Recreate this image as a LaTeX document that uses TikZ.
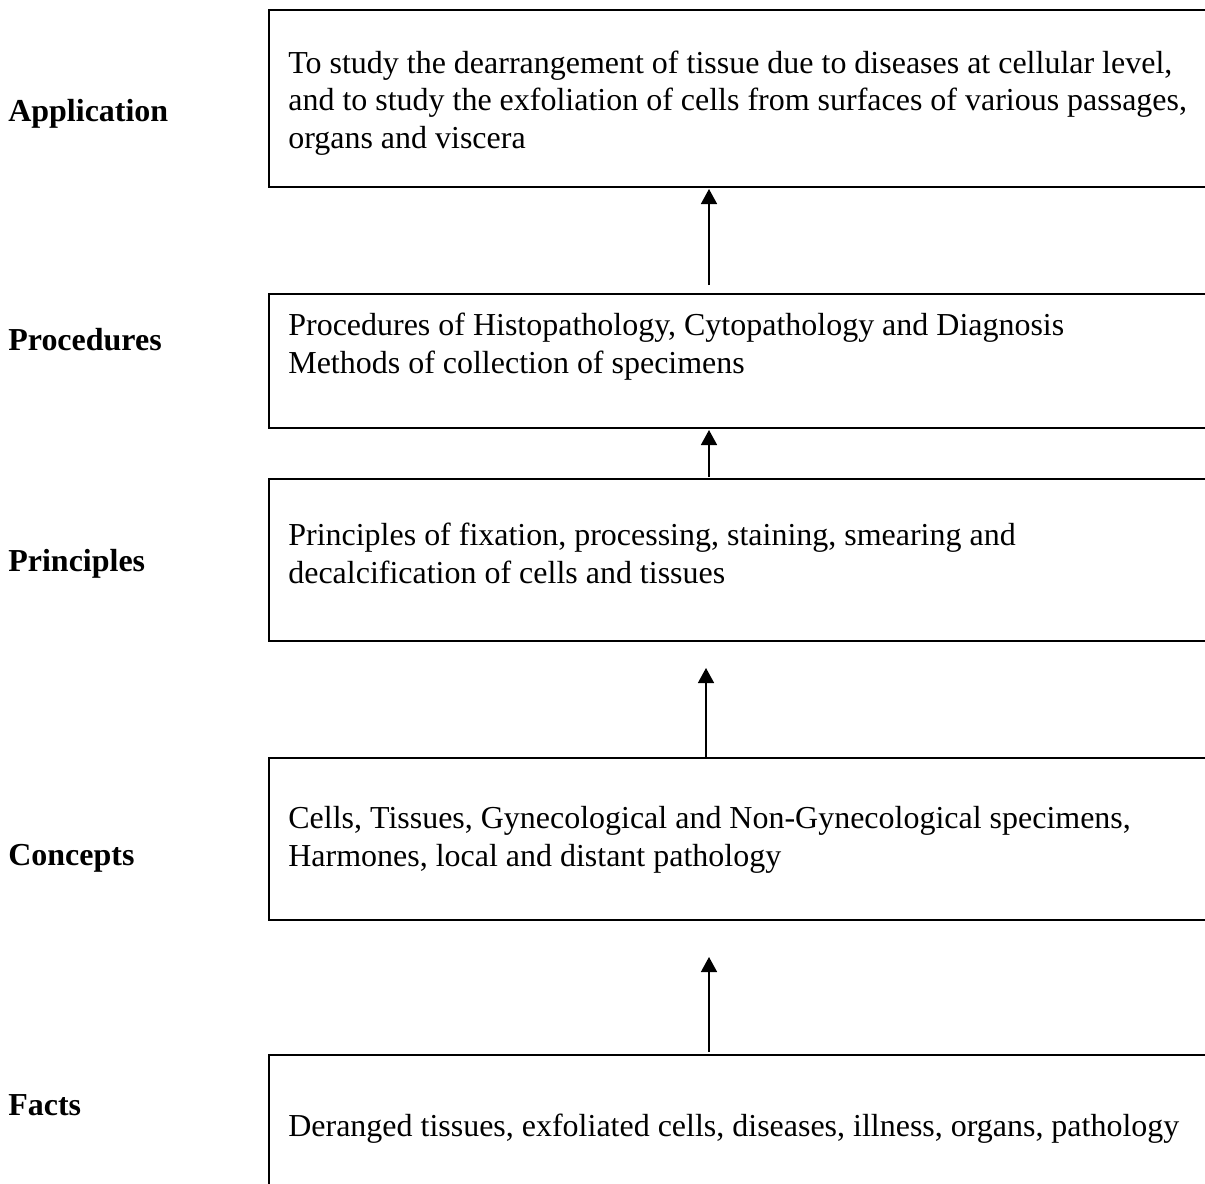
\documentclass[tikz,border=0pt]{standalone}
\usepackage{fontspec}
\setmainfont{Liberation Serif}
\usetikzlibrary{arrows.meta}

\begin{document}
\begin{tikzpicture}[%
        x = 0.02cm, y = -0.02cm,
        panel/.style = {%
            draw, line width = 1.1pt, anchor = north west,
            minimum width = 21cm, inner sep = 0pt
        },
        body/.style = {%
            anchor = base west, align = left, inner sep = 0pt,
            font = \fontsize{18.2}{21.3}\selectfont
        },
        level/.style = {%
            anchor = base west, inner sep = 0pt,
            font = \fontsize{18.2}{21.3}\selectfont\bfseries
        },
        up/.style = {%
            -{Triangle[width = 0.32cm, length = 0.3cm]},
            line width = 0.85pt
        }
    ]

        \useasboundingbox (0,0) rectangle (1205,1184);
        \clip (0,0) rectangle (1205,1184);

        % The boxes, cut off on the right by the page.
        \node[panel, minimum height = 3.54cm] (app) at (268,9) {};
        \node[panel, minimum height = 2.68cm] (proc) at (268,293) {};
        \node[panel, minimum height = 3.24cm] (princ) at (268,478) {};
        \node[panel, minimum height = 3.24cm] (conc) at (268,757) {};
        \node[panel, minimum height = 4cm] (fact) at (268,1054) {};

        % The texts in the boxes (placed by their last line).
        \node[body] (apptext) at (288,148) {To study the dearrangement of tissue due to diseases at cellular level,\\
            and to study the exfoliation of cells from surfaces of various passages,\\
            organs and viscera};
        \node[body] (proctext) at (288,373) {Procedures of Histopathology, Cytopathology and Diagnosis\\
            Methods of collection of specimens};
        \node[body] (princtext) at (288,583) {Principles of fixation, processing, staining, smearing and\\
            decalcification of cells and tissues};
        \node[body] (conctext) at (288,866) {Cells, Tissues, Gynecological and Non-Gynecological specimens,\\
            Harmones, local and distant pathology};
        \node[body] (facttext) at (288,1136) {Deranged tissues, exfoliated cells, diseases, illness, organs, pathology};

        % The level names on the left.
        \node[level] (applbl) at (8,121) {Application};
        \node[level] (proclbl) at (8,350) {Procedures};
        \node[level] (princlbl) at (8,571) {Principles};
        \node[level] (conclbl) at (8,865) {Concepts};
        \node[level] (factlbl) at (8,1115) {Facts};

        % Ends of the arrows between the boxes.
        \coordinate (t1) at (709,189);
        \coordinate (s1) at (709,285);
        \coordinate (t2) at (709,430);
        \coordinate (s2) at (709,477);
        \coordinate (t3) at (706,668);
        \coordinate (s3) at (706,758);
        \coordinate (t4) at (709,957);
        \coordinate (s4) at (709,1052);

        % Arrows pointing up.
        \foreach\x in {1, 2, 3, 4}{%
            \draw[up] (s\x) to (t\x);
        }
    \end{tikzpicture}
\end{document}
